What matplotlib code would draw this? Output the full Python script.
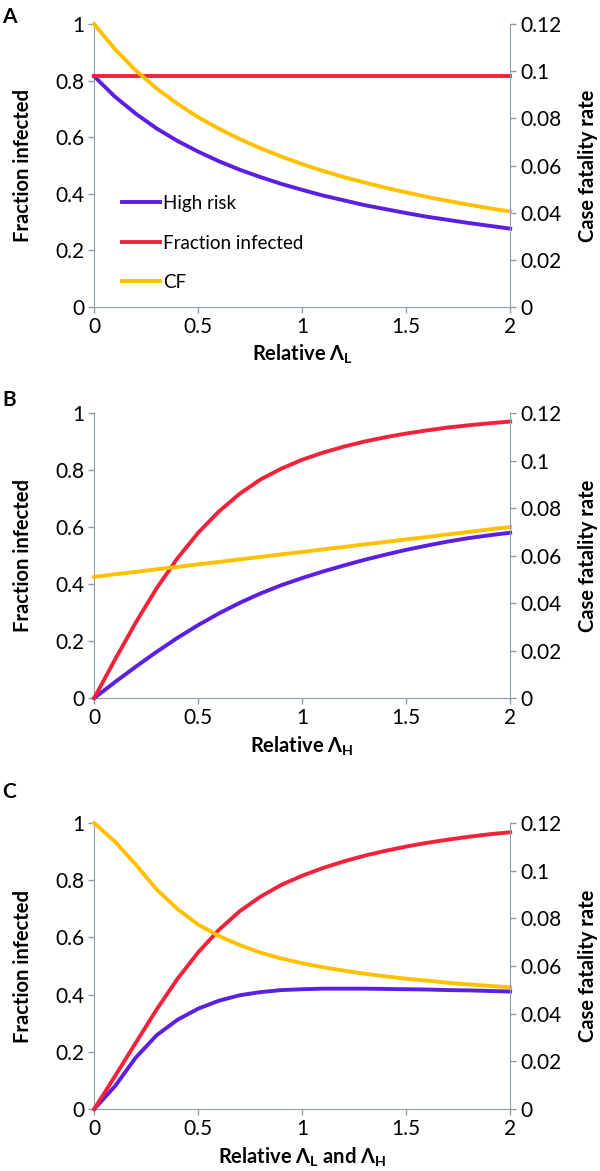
import matplotlib
matplotlib.use("Agg")
import matplotlib.pyplot as plt
from matplotlib.lines import Line2D
from matplotlib.ticker import FuncFormatter

plt.rcParams['font.family'] = ['Lato', 'DejaVu Sans']
plt.rcParams['mathtext.fontset'] = 'custom'
plt.rcParams['mathtext.rm'] = 'Lato'
plt.rcParams['mathtext.bf'] = 'Lato:bold'
plt.rcParams['mathtext.it'] = 'Lato:italic'

# relative lambda values (x axis), same for all three panels
x = [0.0, 0.1, 0.2, 0.3, 0.4, 0.5, 0.6, 0.7, 0.8, 0.9, 1.0,
     1.1, 1.2, 1.3, 1.4, 1.5, 1.6, 1.7, 1.8, 1.9, 2.0]

# panel A - vary lambda L
a_high_risk = [0.815, 0.743, 0.683, 0.631, 0.587, 0.549, 0.515, 0.485, 0.459, 0.435, 0.414,
               0.394, 0.377, 0.360, 0.346, 0.332, 0.319, 0.308, 0.297, 0.287, 0.277]
a_infected = [0.815] * 21
a_cf = [0.1200, 0.1093, 0.1003, 0.0927, 0.0862, 0.0805, 0.0756, 0.0712, 0.0673, 0.0638, 0.0606,
        0.0577, 0.0551, 0.0528, 0.0506, 0.0486, 0.0467, 0.0450, 0.0434, 0.0419, 0.0405]

# panel B - vary lambda H
b_high_risk = [0.0, 0.056, 0.11, 0.162, 0.211, 0.256, 0.297, 0.334, 0.367, 0.396, 0.421,
               0.444, 0.465, 0.485, 0.503, 0.52, 0.535, 0.549, 0.561, 0.571, 0.58]
b_infected = [0.0, 0.135, 0.265, 0.385, 0.49, 0.58, 0.655, 0.717, 0.767, 0.805, 0.836,
              0.861, 0.882, 0.9, 0.915, 0.928, 0.939, 0.949, 0.957, 0.964, 0.97]
b_cf = [0.0510, 0.0521, 0.0531, 0.0542, 0.0552, 0.0563, 0.0573, 0.0584, 0.0594, 0.0605, 0.0615,
        0.0626, 0.0636, 0.0647, 0.0657, 0.0668, 0.0678, 0.0689, 0.0699, 0.0710, 0.0720]

# panel C - vary both
c_high_risk = [0.0, 0.08, 0.18, 0.258, 0.312, 0.351, 0.379, 0.398, 0.409, 0.416, 0.419,
               0.421, 0.421, 0.421, 0.42, 0.419, 0.418, 0.416, 0.415, 0.413, 0.411]
c_infected = [0.0, 0.115, 0.232, 0.348, 0.455, 0.548, 0.627, 0.692, 0.743, 0.784, 0.816,
              0.843, 0.866, 0.886, 0.903, 0.918, 0.931, 0.942, 0.952, 0.961, 0.968]
c_cf = [0.1200, 0.1122, 0.1026, 0.0922, 0.0840, 0.0774, 0.0726, 0.0688, 0.0656, 0.0632, 0.0612,
        0.0595, 0.0581, 0.0568, 0.0557, 0.0547, 0.0539, 0.0530, 0.0523, 0.0517, 0.0511]

panel_letters = ['A', 'B', 'C']
xlabels = [r'Relative Λ$_\mathbf{L}$', r'Relative Λ$_\mathbf{H}$',
           r'Relative Λ$_\mathbf{L}$ and Λ$_\mathbf{H}$']
legend_labels = ['High risk', 'Fraction infected', 'CF']

purple = '#5B1FE3'
red = '#F4213B'
gold = '#FFC000'
grey = '#8E9FA7'

fig = plt.figure(figsize=(6, 11.71), dpi=100)

# axes boxes in figure fractions
boxes = [[0.157, 0.7378, 0.6933, 0.2417],
         [0.157, 0.4039, 0.6933, 0.2434],
         [0.157, 0.0529, 0.6933, 0.2442]]
letter_y = [0.994, 0.667, 0.332]

data = [(a_high_risk, a_infected, a_cf),
        (b_high_risk, b_infected, b_cf),
        (c_high_risk, c_infected, c_cf)]

fmt = FuncFormatter(lambda v, p: '{:g}'.format(round(v, 3)))

for i in range(3):
    hr, inf, cf = data[i]
    ax = fig.add_axes(boxes[i])
    ax2 = ax.twinx()

    ax.plot(x, hr, color=purple, lw=2.8, clip_on=False, zorder=3)
    ax.plot(x, inf, color=red, lw=2.8, clip_on=False, zorder=3)
    ax2.plot(x, cf, color=gold, lw=2.8, clip_on=False)

    ax.set_xlim(0, 2)
    ax.set_ylim(0, 1)
    ax2.set_ylim(0, 0.12)
    ax.set_xticks([0, 0.5, 1, 1.5, 2])
    ax.set_yticks([0, 0.2, 0.4, 0.6, 0.8, 1])
    ax2.set_yticks([0, 0.02, 0.04, 0.06, 0.08, 0.1, 0.12])
    ax.xaxis.set_major_formatter(fmt)
    ax.yaxis.set_major_formatter(fmt)
    ax2.yaxis.set_major_formatter(fmt)

    # spines and ticks in grey
    ax.spines['top'].set_visible(False)
    ax.spines['right'].set_visible(False)
    for s in ['top', 'left', 'bottom']:
        ax2.spines[s].set_visible(False)
    for s in ['left', 'bottom']:
        ax.spines[s].set_color(grey)
    ax2.spines['right'].set_color(grey)
    ax.tick_params(colors=grey, labelcolor='black', labelsize=15, length=4, width=1, pad=3)
    ax2.tick_params(colors=grey, labelcolor='black', labelsize=15, length=4, width=1, pad=3)

    ax.set_ylabel('Fraction infected', fontsize=14.5, fontweight='bold')
    ax2.set_ylabel('Case fatality rate', fontsize=14.5, fontweight='bold')
    ax.set_xlabel(xlabels[i], fontsize=14.5, fontweight='bold')
    ax.yaxis.set_label_coords(-0.147, 0.5)
    ax2.yaxis.set_label_coords(1.163, 0.5)
    ax.xaxis.set_label_coords(0.5, -0.125)

    fig.text(0.004, letter_y[i], panel_letters[i], fontsize=15, fontweight='bold', va='top')

    # legend only in the first panel
    if i == 0:
        handles = [Line2D([], [], color=purple, lw=2.8),
                   Line2D([], [], color=red, lw=2.8),
                   Line2D([], [], color=gold, lw=2.8)]
        ax.legend(handles, legend_labels, loc='lower left', bbox_to_anchor=(0.05, 0.03),
                  frameon=False, fontsize=13.5, handlelength=2.0, handletextpad=0.15,
                  labelspacing=1.2, borderaxespad=0)

plt.savefig('out.png', dpi=100)
